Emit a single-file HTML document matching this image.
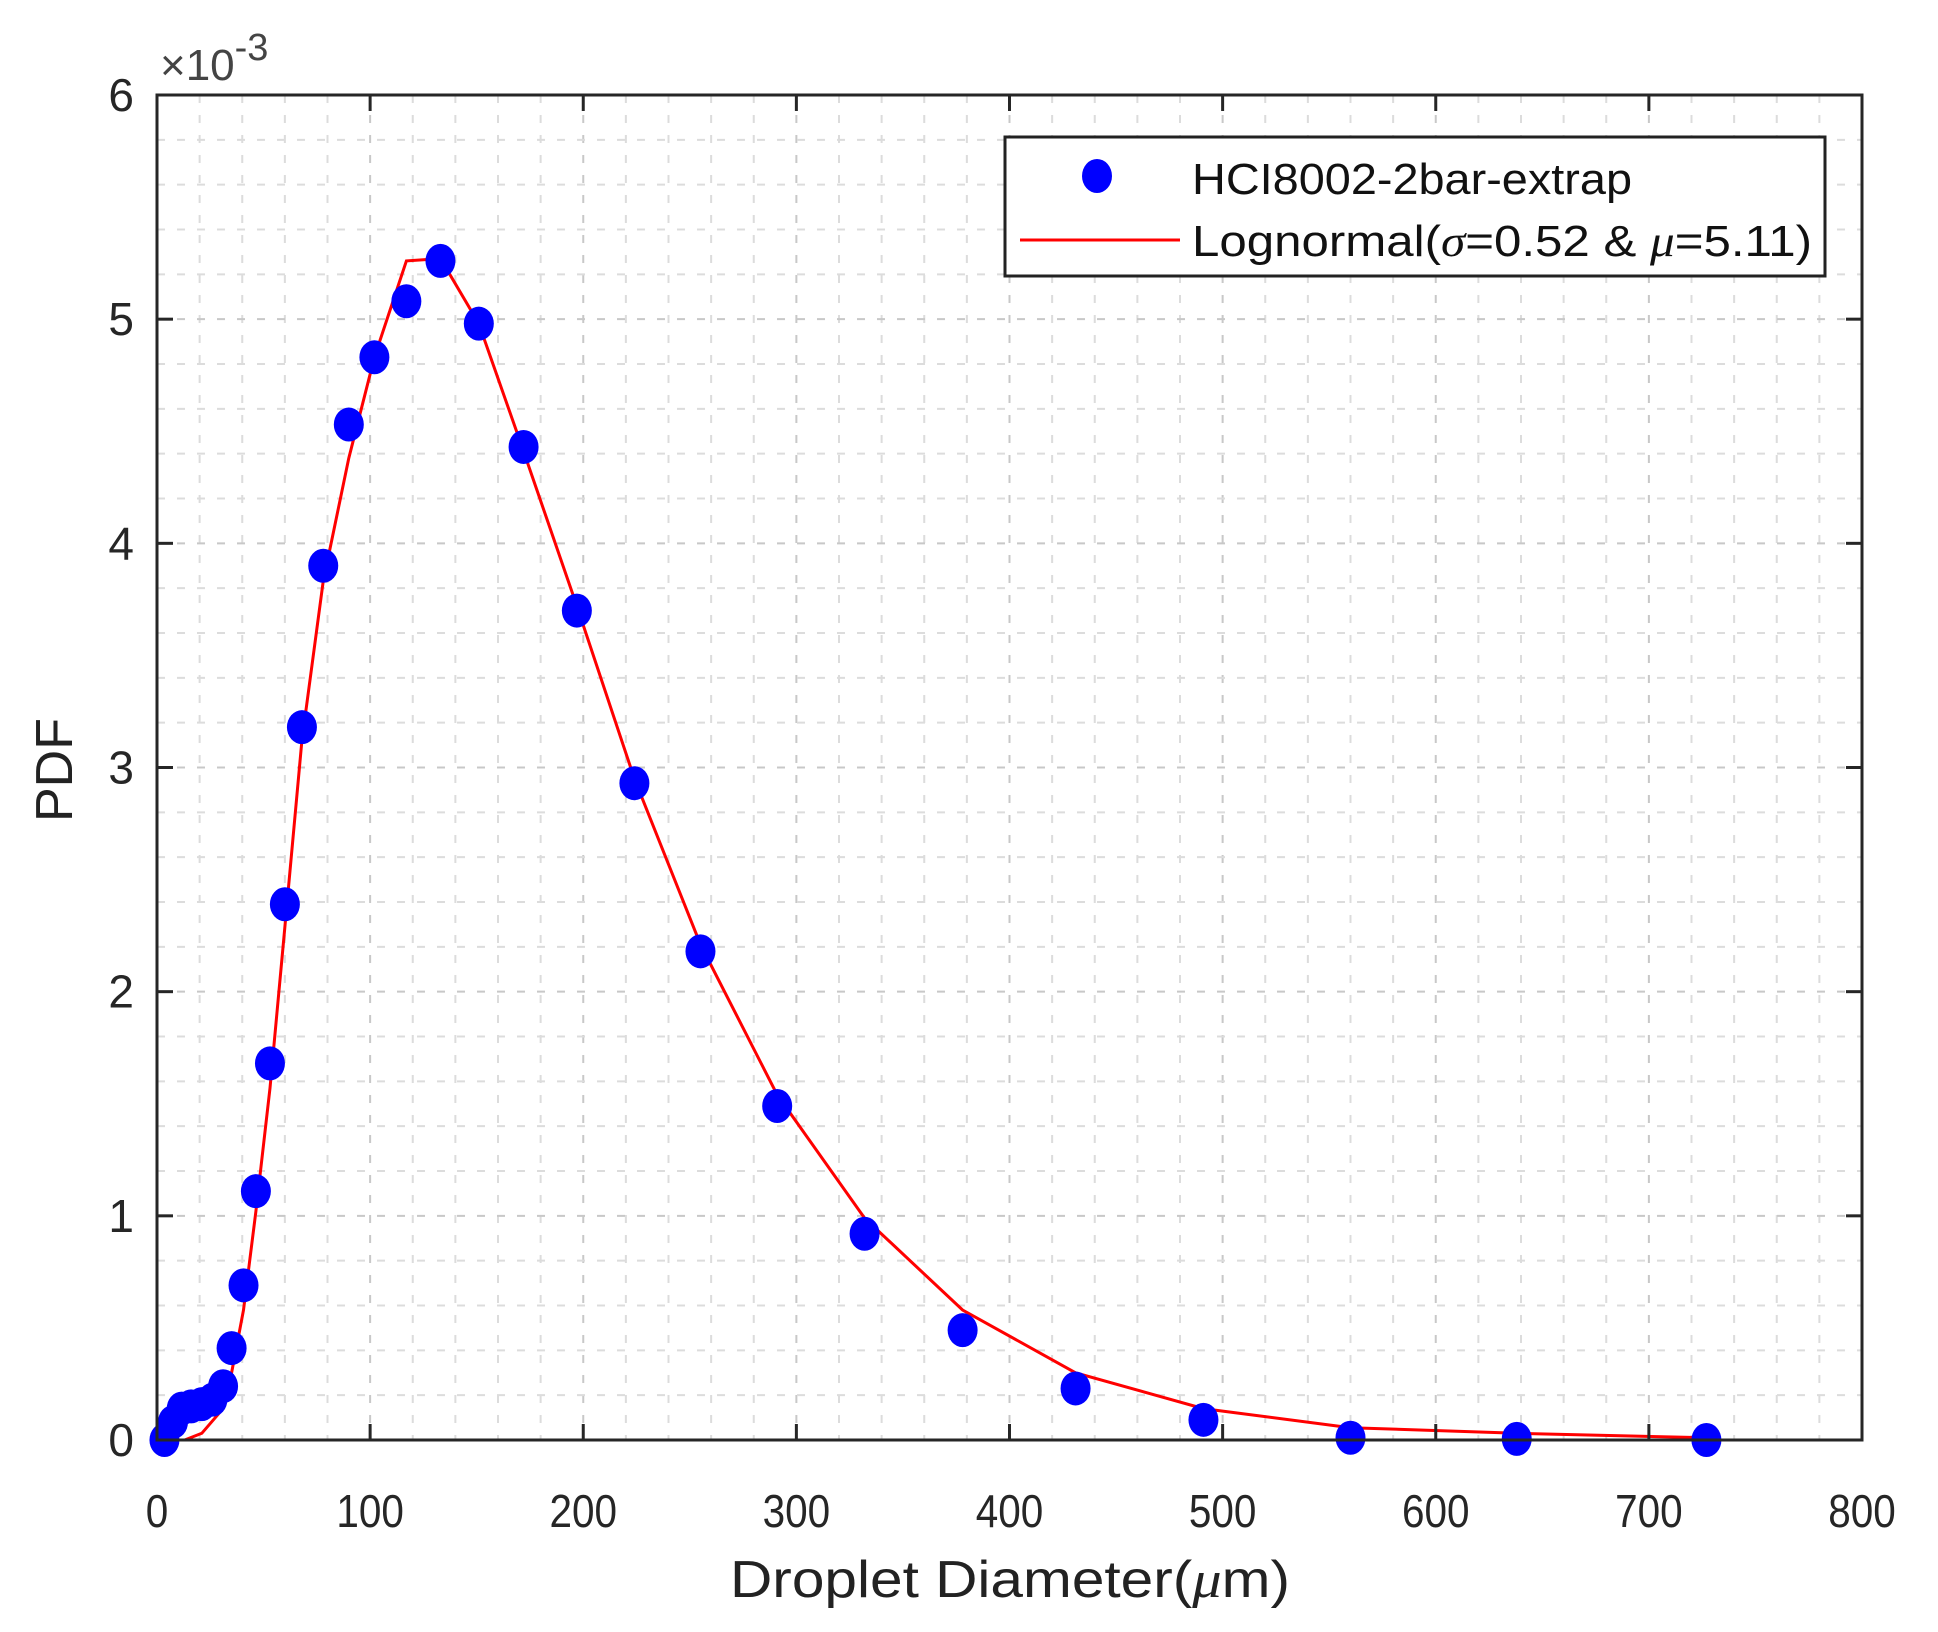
<!DOCTYPE html>
<html><head><meta charset="utf-8"><style>
html,body{margin:0;padding:0;background:#fff;}
svg{display:block;font-family:"Liberation Sans",Arial,sans-serif;}
</style></head><body>
<svg id="chart" width="1938" height="1632" viewBox="0 0 1938 1632" xmlns="http://www.w3.org/2000/svg">
<rect width="1938" height="1632" fill="#fff"/>
<g id="grid"></g>
<g id="series"></g>
<g id="axes"></g>
<text x="160" y="80" font-size="44" fill="#444">×10<tspan dy="-20" font-size="38">-3</tspan></text>
<text transform="translate(72,770) rotate(-90)" text-anchor="middle" font-size="52" fill="#222">PDF</text>
<text x="1010" y="1597" text-anchor="middle" font-size="52" fill="#222" textLength="560" lengthAdjust="spacingAndGlyphs">Droplet Diameter(<tspan font-style="italic" font-family="Liberation Serif, serif">μ</tspan>m)</text>
<g>
<rect x="1005" y="137" width="820" height="139" fill="#fff" stroke="#222" stroke-width="3"/>
<ellipse cx="1097" cy="176" rx="15" ry="17" fill="#0000ff"/>
<text x="1192" y="194" font-size="44" fill="#111" textLength="440" lengthAdjust="spacingAndGlyphs">HCI8002-2bar-extrap</text>
<line x1="1020" y1="240" x2="1180" y2="240" stroke="#ff0000" stroke-width="3"/>
<text x="1192" y="256" font-size="44" fill="#111" textLength="620" lengthAdjust="spacingAndGlyphs">Lognormal(<tspan font-style="italic" font-family="Liberation Serif, serif">σ</tspan>=0.52 &amp; <tspan font-style="italic" font-family="Liberation Serif, serif">μ</tspan>=5.11)</text>
</g>
</svg>
<script>
const dataX=[3.5,7.5,11.6,16,21,26,31,35,40.6,46.4,53,60,68,78,90,102,117,133,151,172,197,224,255,291,332,378,431,491,560,638,727];
const dataY=[0,0.08,0.14,0.15,0.16,0.18,0.24,0.41,0.69,1.11,1.68,2.39,3.18,3.90,4.53,4.83,5.08,5.26,4.98,4.43,3.70,2.93,2.18,1.49,0.92,0.49,0.23,0.09,0.01,0.005,0];
const fitX=[13,21,31,35,40.6,46.4,53,60,68,78,90,102,117,133,151,172,197,224,255,291,332,378,431,491,560,638,727];
const fitY=[0,0.03,0.14,0.30,0.58,1.02,1.57,2.29,3.12,3.83,4.38,4.83,5.26,5.27,4.98,4.41,3.72,2.95,2.21,1.54,0.99,0.58,0.30,0.14,0.055,0.03,0.01];
const xTicks=[0,100,200,300,400,500,600,700,800];
const yTicks=[0,1,2,3,4,5,6];
const X0=157,X1=1862,Y0=1440,Y1=95;
const sx=v=>X0+(v/800)*(X1-X0);
const sy=v=>Y0-(v/6)*(Y0-Y1);
const NS="http://www.w3.org/2000/svg";
function mk(tag,attrs,parent){const e=document.createElementNS(NS,tag);for(const k in attrs)e.setAttribute(k,attrs[k]);parent.appendChild(e);return e;}
const grid=document.getElementById('grid'),axes=document.getElementById('axes'),ser=document.getElementById('series');
for(let v=20;v<800;v+=20){const g=mk('line',{x1:sx(v),x2:sx(v),y1:Y1,y2:Y0,stroke:v%100===0?'#c8c8c8':'#dcdcdc','stroke-width':2,'stroke-dasharray':'8 12'},grid);

}
for(let v=0.2;v<5.99;v+=0.2){const g=mk('line',{x1:X0,x2:X1,y1:sy(v),y2:sy(v),stroke:Math.abs(v-Math.round(v))<0.01?'#c8c8c8':'#dcdcdc','stroke-width':2,'stroke-dasharray':'8 12'},grid);

}
let d='';fitX.forEach((x,i)=>{d+=(i?'L':'M')+sx(x).toFixed(1)+','+sy(fitY[i]).toFixed(1);});
const fl=mk('path',{d:d,fill:'none',stroke:'#ff0000','stroke-width':3},ser);


dataX.forEach((x,i)=>{const c=mk('ellipse',{cx:sx(x),cy:sy(dataY[i]),rx:15,ry:17,fill:'#0000ff'},ser);

});
const box=mk('rect',{x:X0,y:Y1,width:X1-X0,height:Y0-Y1,fill:'none',stroke:'#262626','stroke-width':3},axes);


xTicks.forEach(v=>{mk('line',{x1:sx(v),x2:sx(v),y1:Y0,y2:Y0-16,stroke:'#262626','stroke-width':3},axes);mk('line',{x1:sx(v),x2:sx(v),y1:Y1,y2:Y1+16,stroke:'#262626','stroke-width':3},axes);
const t=mk('text',{x:sx(v),y:1527,'text-anchor':'middle','font-size':46,fill:'#262626',transform:'translate('+sx(v)+',0) scale(0.88,1) translate('+(-sx(v))+',0)'},axes);t.textContent=v;

});
yTicks.forEach(v=>{mk('line',{x1:X0,x2:X0+16,y1:sy(v),y2:sy(v),stroke:'#262626','stroke-width':3},axes);mk('line',{x1:X1,x2:X1-16,y1:sy(v),y2:sy(v),stroke:'#262626','stroke-width':3},axes);
const t=mk('text',{x:134,y:sy(v)+16,'text-anchor':'end','font-size':46,fill:'#262626'},axes);t.textContent=v;

});
</script>
</body></html>
